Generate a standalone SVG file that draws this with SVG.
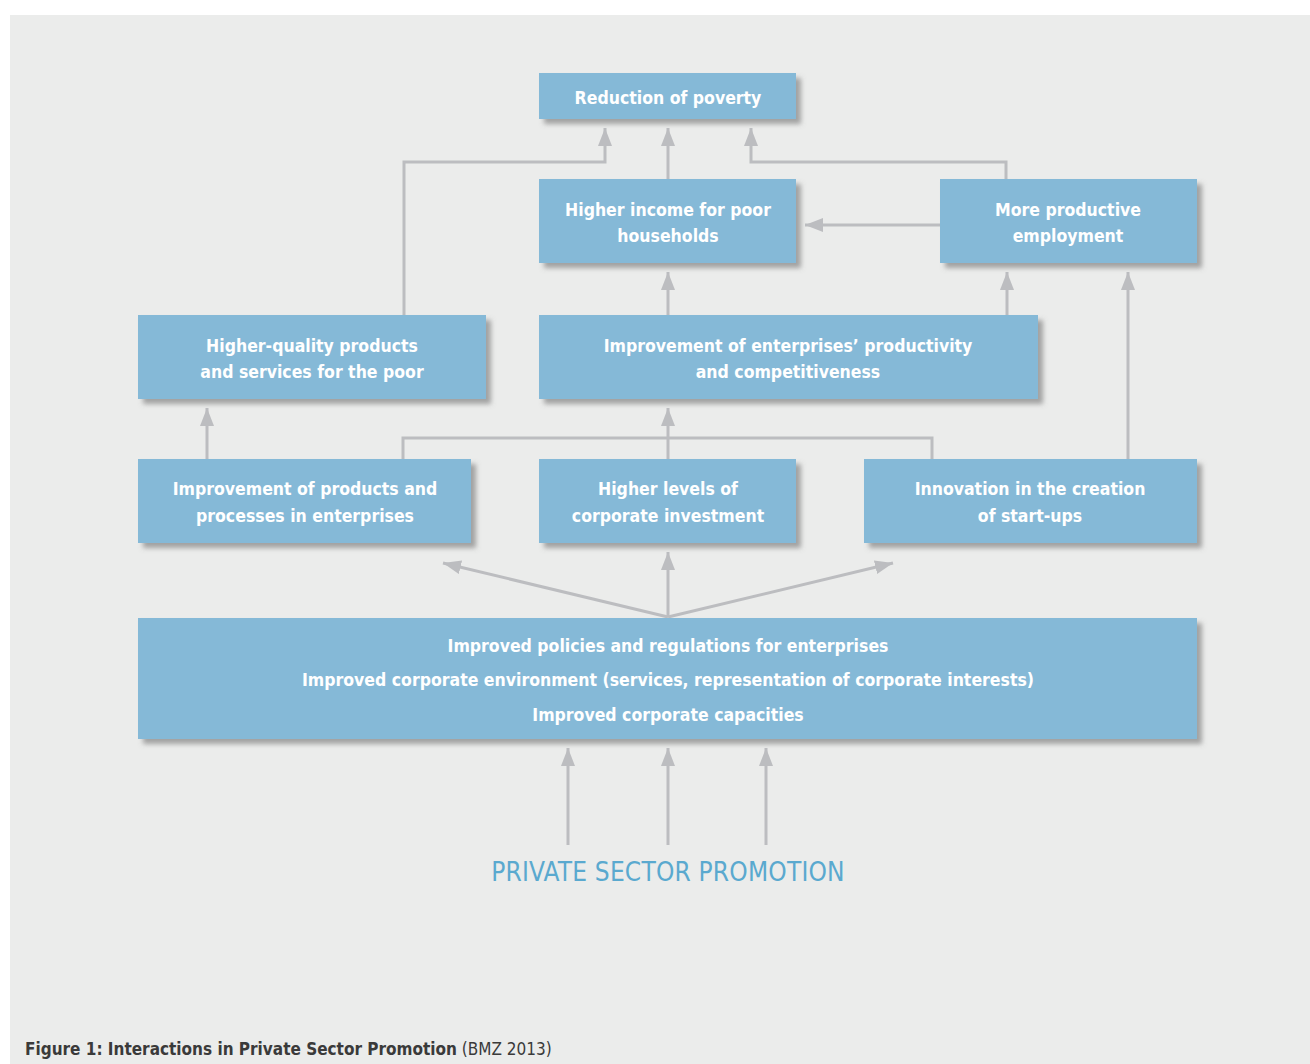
<svg xmlns="http://www.w3.org/2000/svg" width="1310" height="1064" viewBox="0 0 1310 1064">
<defs>
<filter id="sh" x="-10%" y="-10%" width="130%" height="140%">
<feDropShadow dx="5" dy="5" stdDeviation="2.5" flood-color="#707070" flood-opacity="0.6"/>
</filter>
<marker id="ah" markerUnits="userSpaceOnUse" markerWidth="20" markerHeight="14" viewBox="0 0 20 14" refX="18" refY="7" orient="auto">
<path d="M0,0 L18,7 L0,14 Z" fill="#bcbdc0"/>
</marker>
<style>
.box{fill:#85b9d7;filter:url(#sh)}
.t{font-family:"DejaVu Sans Condensed","Liberation Sans Narrow","Liberation Sans",sans-serif;font-stretch:condensed;font-weight:bold;font-size:17.5px;fill:#ffffff;text-anchor:middle}
.c{fill:none;stroke:#bcbdc0;stroke-width:3}
.a{marker-end:url(#ah)}
</style>
</defs>
<rect x="0" y="0" width="1310" height="1064" fill="#ffffff"/>
<rect x="10" y="15" width="1300" height="1049" fill="#ebeceb"/>

<g id="connectors">
<polyline class="c a" points="404,322 404,162 605,162 605,128"/>
<line class="c a" x1="668" y1="179" x2="668" y2="128"/>
<polyline class="c a" points="1006,179 1006,162 751,162 751,128"/>
<line class="c a" x1="940" y1="225" x2="805" y2="225"/>
<line class="c a" x1="668" y1="315" x2="668" y2="272"/>
<line class="c a" x1="1007" y1="315" x2="1007" y2="272"/>
<line class="c a" x1="1128" y1="459" x2="1128" y2="272"/>
<line class="c a" x1="207" y1="459" x2="207" y2="408"/>
<polyline class="c" points="403,459 403,438 932,438 932,459"/>
<line class="c a" x1="668" y1="459" x2="668" y2="408"/>
<line class="c a" x1="668" y1="617" x2="443" y2="563"/>
<line class="c a" x1="668" y1="617" x2="668" y2="552"/>
<line class="c a" x1="668" y1="617" x2="893" y2="563"/>
<line class="c a" x1="568" y1="845" x2="568" y2="748"/>
<line class="c a" x1="668" y1="845" x2="668" y2="748"/>
<line class="c a" x1="766" y1="845" x2="766" y2="748"/>
</g>

<g id="n-poverty"><rect class="box" x="539" y="73" width="257" height="46"/><text class="t" x="668" y="104">Reduction of poverty</text></g>
<g id="n-income"><rect class="box" x="539" y="179" width="257" height="84"/><text class="t" x="668" y="216">Higher income for poor</text><text class="t" x="668" y="242">households</text></g>
<g id="n-employment"><rect class="box" x="940" y="179" width="257" height="84"/><text class="t" x="1068" y="216">More productive</text><text class="t" x="1068" y="242">employment</text></g>
<g id="n-quality"><rect class="box" x="138" y="315" width="348" height="84"/><text class="t" x="312" y="352">Higher-quality products</text><text class="t" x="312" y="378">and services for the poor</text></g>
<g id="n-productivity"><rect class="box" x="539" y="315" width="499" height="84"/><text class="t" x="788" y="352">Improvement of enterprises’ productivity</text><text class="t" x="788" y="378">and competitiveness</text></g>
<g id="n-products"><rect class="box" x="138" y="459" width="333" height="84"/><text class="t" x="305" y="495">Improvement of products and</text><text class="t" x="305" y="522">processes in enterprises</text></g>
<g id="n-investment"><rect class="box" x="539" y="459" width="257" height="84"/><text class="t" x="668" y="495">Higher levels of</text><text class="t" x="668" y="522">corporate investment</text></g>
<g id="n-innovation"><rect class="box" x="864" y="459" width="333" height="84"/><text class="t" x="1030" y="495">Innovation in the creation</text><text class="t" x="1030" y="522">of start-ups</text></g>
<g id="n-policies"><rect class="box" x="138" y="618" width="1059" height="121"/><text class="t" x="668" y="652">Improved policies and regulations for enterprises</text><text class="t" x="668" y="686">Improved corporate environment (services, representation of corporate interests)</text><text class="t" x="668" y="721">Improved corporate capacities</text></g>

<text x="668" y="881" font-family="'DejaVu Sans Condensed','Liberation Sans Narrow','Liberation Sans',sans-serif" font-stretch="condensed" font-size="26" fill="#5aa9cf" text-anchor="middle" letter-spacing="0.2">PRIVATE SECTOR PROMOTION</text>
<text x="25" y="1055" font-family="'DejaVu Sans Condensed','Liberation Sans Narrow','Liberation Sans',sans-serif" font-stretch="condensed" font-size="17" fill="#3a3a3a"><tspan font-weight="bold">Figure 1: Interactions in Private Sector Promotion</tspan> (BMZ 2013)</text>
</svg>
